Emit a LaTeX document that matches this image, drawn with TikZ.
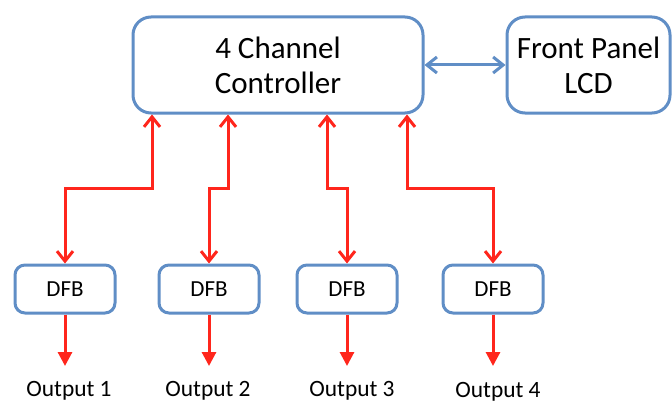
\documentclass[tikz,border=0pt]{standalone}
\usepackage{fontspec}
\setmainfont{Carlito}
\usetikzlibrary{arrows.meta}
\definecolor{boxblue}{RGB}{96,142,198}
\definecolor{linkred}{RGB}{255,38,28}
\tikzset{
  bigbox/.style={draw=boxblue,line width=1.5pt,rounded corners=9pt,align=center,
    minimum height=48pt,font=\fontsize{15.5}{17.5}\selectfont},
  dfbbox/.style={draw=boxblue,line width=1.5pt,rounded corners=5pt,
    minimum width=50pt,minimum height=24pt,font=\fontsize{11.5}{13}\selectfont},
  outlabel/.style={anchor=north,inner sep=0pt,font=\fontsize{11.7}{13}\selectfont},
  link/.style={draw=linkred,line width=1.5pt,{Straight Barb[length=5pt,width=8pt]}-{Straight Barb[length=5pt,width=8pt]}},
  panel/.style={draw=boxblue,line width=1.5pt,{Straight Barb[length=5pt,width=8pt]}-{Straight Barb[length=5pt,width=8pt]}},
  outarrow/.style={draw=linkred,line width=1.5pt,-{Triangle[length=7pt,width=7pt]},shorten >=7.5pt}
}
\begin{document}
\begin{tikzpicture}[x=0.5pt,y=-0.5pt]

  \useasboundingbox (0,0) rectangle (672,401);

  \node (ctrl) at (278, 65) [bigbox,minimum width=145pt] {4 Channel\\Controller};
  \node (lcd) at (588.5, 65) [bigbox,minimum width=81.5pt] {Front Panel\\LCD};

  \node (dfb1) at (65, 289) [dfbbox] {DFB};
  \node (dfb2) at (209, 289) [dfbbox] {DFB};
  \node (dfb3) at (347, 289) [dfbbox] {DFB};
  \node (dfb4) at (493, 289) [dfbbox] {DFB};

  \node (out1) at (69, 381) [outlabel] {Output 1};
  \node (out2) at (208, 381) [outlabel] {Output 2};
  \node (out3) at (352, 381) [outlabel] {Output 3};
  \node (out4) at (498, 382) [outlabel] {Output 4};

  \coordinate (tap1) at (152, 188);
  \coordinate (tap2) at (228, 188);
  \coordinate (tap3) at (327, 188);
  \coordinate (tap4) at (407, 188);

  \draw[panel] (ctrl.east) -- (lcd.west);

  \draw[link] (dfb1.north) |- (tap1) -- (tap1 |- ctrl.south);
  \draw[link] (dfb2.north) |- (tap2) -- (tap2 |- ctrl.south);
  \draw[link] (dfb3.north) |- (tap3) -- (tap3 |- ctrl.south);
  \draw[link] (dfb4.north) |- (tap4) -- (tap4 |- ctrl.south);

  \draw[outarrow] (dfb1.south) -- (dfb1.south |- out1.north);
  \draw[outarrow] (dfb2.south) -- (dfb2.south |- out2.north);
  \draw[outarrow] (dfb3.south) -- (dfb3.south |- out3.north);
  \draw[outarrow] (dfb4.south) -- (dfb4.south |- out3.north);

\end{tikzpicture}
\end{document}
